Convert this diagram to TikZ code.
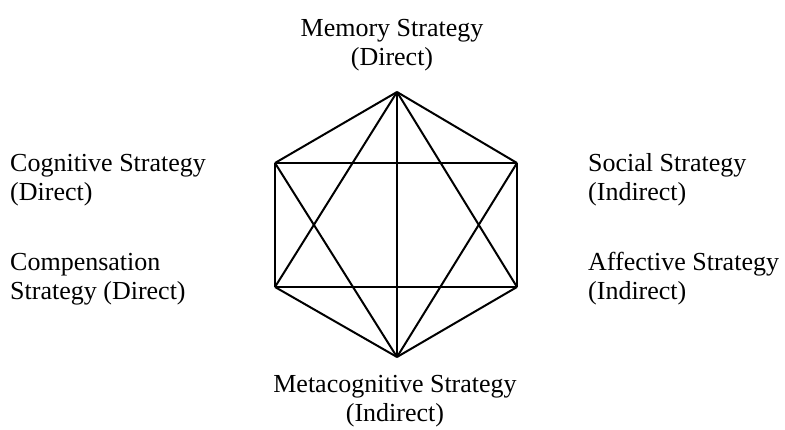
\documentclass[tikz,border=0pt]{standalone}
\usepackage{fontspec}
\setmainfont{Liberation Serif}
\usepackage{tikz}
\usetikzlibrary{positioning,calc}
\tikzset{
  edge/.style={draw=black,line width=2pt,line join=miter},
  lbl/.style={inner sep=0pt,font=\fontsize{26}{29}\selectfont},
}

\begin{document}
\begin{tikzpicture}[x=1pt,y=-1pt]
  \useasboundingbox (0,0) rectangle (785,430);
  \coordinate (mem) at (397,92);
  \coordinate (soc) at (517,163);
  \coordinate (aff) at (517,287);
  \coordinate (meta) at (397,357);
  \coordinate (comp) at (275,287);
  \coordinate (cog) at (275,163);
  \foreach \i/\j in {mem/soc,soc/aff,aff/meta,meta/comp,comp/cog,cog/mem,
                     mem/meta,mem/aff,aff/comp,comp/mem,
                     meta/soc,soc/cog,cog/meta}
    \draw[edge] (\i)--(\j);
  % base anchor sits on the last line
  \node[lbl,align=center,anchor=base] (memlbl) at (392,66)
    {Memory Strategy\\(Direct)};
  \node[lbl,align=left,anchor=base west] (coglbl) at (10,201)
    {Cognitive Strategy\\(Direct)};
  \node[lbl,align=left,anchor=base west] (complbl) at (10,300)
    {Compensation\\Strategy (Direct)};
  \node[lbl,align=left,anchor=base west] (soclbl) at (588,201)
    {Social Strategy\\(Indirect)};
  \node[lbl,align=left,anchor=base west] (afflbl) at (588,300)
    {Affective Strategy\\(Indirect)};
  \node[lbl,align=center,anchor=base] (metalbl) at (395,421)
    {Metacognitive Strategy\\(Indirect)};
\end{tikzpicture}
\end{document}
